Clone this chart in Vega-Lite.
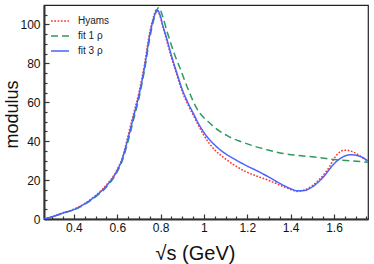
{
  "$schema": "https://vega.github.io/schema/vega-lite/v6.json",
  "width": 324,
  "height": 214,
  "autosize": {"type": "none"},
  "padding": {"left": 44, "top": 5, "right": 6, "bottom": 45},
  "background": "white",
  "config": {
    "view": {"stroke": "#222", "strokeWidth": 1.2},
    "font": "Liberation Sans"
  },
  "data": {
    "values": [
      {"s": "Hyams", "x": 0.262, "y": 0},
      {"s": "Hyams", "x": 0.30, "y": 1.2},
      {"s": "Hyams", "x": 0.35, "y": 3.2},
      {"s": "Hyams", "x": 0.40, "y": 5.0},
      {"s": "Hyams", "x": 0.45, "y": 8.0},
      {"s": "Hyams", "x": 0.50, "y": 12.0},
      {"s": "Hyams", "x": 0.55, "y": 17.5},
      {"s": "Hyams", "x": 0.60, "y": 25.5},
      {"s": "Hyams", "x": 0.625, "y": 32},
      {"s": "Hyams", "x": 0.65, "y": 43},
      {"s": "Hyams", "x": 0.675, "y": 54},
      {"s": "Hyams", "x": 0.70, "y": 65},
      {"s": "Hyams", "x": 0.725, "y": 79},
      {"s": "Hyams", "x": 0.75, "y": 96},
      {"s": "Hyams", "x": 0.765, "y": 103},
      {"s": "Hyams", "x": 0.78, "y": 107.5},
      {"s": "Hyams", "x": 0.795, "y": 105},
      {"s": "Hyams", "x": 0.81, "y": 99},
      {"s": "Hyams", "x": 0.825, "y": 93},
      {"s": "Hyams", "x": 0.85, "y": 83},
      {"s": "Hyams", "x": 0.875, "y": 74},
      {"s": "Hyams", "x": 0.90, "y": 65.5},
      {"s": "Hyams", "x": 0.925, "y": 59},
      {"s": "Hyams", "x": 0.95, "y": 53.5},
      {"s": "Hyams", "x": 0.975, "y": 48},
      {"s": "Hyams", "x": 1.0, "y": 43},
      {"s": "Hyams", "x": 1.05, "y": 35.5},
      {"s": "Hyams", "x": 1.1, "y": 30.8},
      {"s": "Hyams", "x": 1.15, "y": 27},
      {"s": "Hyams", "x": 1.2, "y": 24},
      {"s": "Hyams", "x": 1.25, "y": 21.8},
      {"s": "Hyams", "x": 1.3, "y": 19.8},
      {"s": "Hyams", "x": 1.35, "y": 17.4},
      {"s": "Hyams", "x": 1.4, "y": 15.2},
      {"s": "Hyams", "x": 1.43, "y": 14.2},
      {"s": "Hyams", "x": 1.46, "y": 14.8},
      {"s": "Hyams", "x": 1.5, "y": 17.2},
      {"s": "Hyams", "x": 1.55, "y": 22.5},
      {"s": "Hyams", "x": 1.58, "y": 27},
      {"s": "Hyams", "x": 1.6, "y": 31},
      {"s": "Hyams", "x": 1.625, "y": 34.3},
      {"s": "Hyams", "x": 1.65, "y": 35.4},
      {"s": "Hyams", "x": 1.675, "y": 35.0},
      {"s": "Hyams", "x": 1.7, "y": 33.8},
      {"s": "Hyams", "x": 1.725, "y": 32.0},
      {"s": "Hyams", "x": 1.757, "y": 29.6},
      {"s": "fit 1 ρ", "x": 0.262, "y": 0},
      {"s": "fit 1 ρ", "x": 0.30, "y": 1.1},
      {"s": "fit 1 ρ", "x": 0.35, "y": 3.0},
      {"s": "fit 1 ρ", "x": 0.40, "y": 4.7},
      {"s": "fit 1 ρ", "x": 0.45, "y": 7.5},
      {"s": "fit 1 ρ", "x": 0.50, "y": 11.3},
      {"s": "fit 1 ρ", "x": 0.55, "y": 16.5},
      {"s": "fit 1 ρ", "x": 0.60, "y": 24.3},
      {"s": "fit 1 ρ", "x": 0.625, "y": 30.5},
      {"s": "fit 1 ρ", "x": 0.65, "y": 40},
      {"s": "fit 1 ρ", "x": 0.675, "y": 51},
      {"s": "fit 1 ρ", "x": 0.70, "y": 62},
      {"s": "fit 1 ρ", "x": 0.725, "y": 76},
      {"s": "fit 1 ρ", "x": 0.75, "y": 93},
      {"s": "fit 1 ρ", "x": 0.77, "y": 103},
      {"s": "fit 1 ρ", "x": 0.792, "y": 108.7},
      {"s": "fit 1 ρ", "x": 0.81, "y": 104},
      {"s": "fit 1 ρ", "x": 0.828, "y": 97},
      {"s": "fit 1 ρ", "x": 0.845, "y": 91},
      {"s": "fit 1 ρ", "x": 0.86, "y": 86},
      {"s": "fit 1 ρ", "x": 0.875, "y": 81.5},
      {"s": "fit 1 ρ", "x": 0.89, "y": 77.5},
      {"s": "fit 1 ρ", "x": 0.91, "y": 71.5},
      {"s": "fit 1 ρ", "x": 0.935, "y": 64.5},
      {"s": "fit 1 ρ", "x": 0.966, "y": 57},
      {"s": "fit 1 ρ", "x": 1.0, "y": 52},
      {"s": "fit 1 ρ", "x": 1.02, "y": 50},
      {"s": "fit 1 ρ", "x": 1.05, "y": 47},
      {"s": "fit 1 ρ", "x": 1.074, "y": 45},
      {"s": "fit 1 ρ", "x": 1.1, "y": 43.3},
      {"s": "fit 1 ρ", "x": 1.128, "y": 41.6},
      {"s": "fit 1 ρ", "x": 1.16, "y": 40.2},
      {"s": "fit 1 ρ", "x": 1.2, "y": 38.6},
      {"s": "fit 1 ρ", "x": 1.25, "y": 36.8},
      {"s": "fit 1 ρ", "x": 1.3, "y": 35.3},
      {"s": "fit 1 ρ", "x": 1.366, "y": 33.7},
      {"s": "fit 1 ρ", "x": 1.45, "y": 32.5},
      {"s": "fit 1 ρ", "x": 1.52, "y": 31.7},
      {"s": "fit 1 ρ", "x": 1.6, "y": 30.6},
      {"s": "fit 1 ρ", "x": 1.674, "y": 29.9},
      {"s": "fit 1 ρ", "x": 1.757, "y": 29.2},
      {"s": "fit 3 ρ", "x": 0.262, "y": 0},
      {"s": "fit 3 ρ", "x": 0.30, "y": 1.2},
      {"s": "fit 3 ρ", "x": 0.35, "y": 3.1},
      {"s": "fit 3 ρ", "x": 0.40, "y": 4.9},
      {"s": "fit 3 ρ", "x": 0.45, "y": 7.8},
      {"s": "fit 3 ρ", "x": 0.50, "y": 11.8},
      {"s": "fit 3 ρ", "x": 0.55, "y": 17.0},
      {"s": "fit 3 ρ", "x": 0.60, "y": 25},
      {"s": "fit 3 ρ", "x": 0.625, "y": 31.5},
      {"s": "fit 3 ρ", "x": 0.65, "y": 41.5},
      {"s": "fit 3 ρ", "x": 0.675, "y": 52.5},
      {"s": "fit 3 ρ", "x": 0.70, "y": 63.5},
      {"s": "fit 3 ρ", "x": 0.725, "y": 77.5},
      {"s": "fit 3 ρ", "x": 0.75, "y": 94.5},
      {"s": "fit 3 ρ", "x": 0.765, "y": 102},
      {"s": "fit 3 ρ", "x": 0.785, "y": 107.3},
      {"s": "fit 3 ρ", "x": 0.80, "y": 104},
      {"s": "fit 3 ρ", "x": 0.81, "y": 99.5},
      {"s": "fit 3 ρ", "x": 0.825, "y": 94},
      {"s": "fit 3 ρ", "x": 0.85, "y": 84},
      {"s": "fit 3 ρ", "x": 0.875, "y": 75},
      {"s": "fit 3 ρ", "x": 0.90, "y": 66.5},
      {"s": "fit 3 ρ", "x": 0.925, "y": 60},
      {"s": "fit 3 ρ", "x": 0.95, "y": 54.5},
      {"s": "fit 3 ρ", "x": 0.975, "y": 49},
      {"s": "fit 3 ρ", "x": 1.0, "y": 44.5},
      {"s": "fit 3 ρ", "x": 1.05, "y": 38},
      {"s": "fit 3 ρ", "x": 1.1, "y": 33.5},
      {"s": "fit 3 ρ", "x": 1.15, "y": 30.2},
      {"s": "fit 3 ρ", "x": 1.2, "y": 27.2},
      {"s": "fit 3 ρ", "x": 1.25, "y": 24.5},
      {"s": "fit 3 ρ", "x": 1.3, "y": 21.5},
      {"s": "fit 3 ρ", "x": 1.35, "y": 18.3},
      {"s": "fit 3 ρ", "x": 1.4, "y": 15.6},
      {"s": "fit 3 ρ", "x": 1.43, "y": 14.5},
      {"s": "fit 3 ρ", "x": 1.46, "y": 14.6},
      {"s": "fit 3 ρ", "x": 1.5, "y": 16.5},
      {"s": "fit 3 ρ", "x": 1.55, "y": 21.5},
      {"s": "fit 3 ρ", "x": 1.6, "y": 28.3},
      {"s": "fit 3 ρ", "x": 1.625, "y": 30.8},
      {"s": "fit 3 ρ", "x": 1.65, "y": 32.4},
      {"s": "fit 3 ρ", "x": 1.675, "y": 33.0},
      {"s": "fit 3 ρ", "x": 1.7, "y": 32.8},
      {"s": "fit 3 ρ", "x": 1.725, "y": 32.0},
      {"s": "fit 3 ρ", "x": 1.757, "y": 29.8}
    ]
  },
  "mark": {"type": "line", "interpolate": "monotone", "clip": true},
  "encoding": {
    "x": {
      "field": "x", "type": "quantitative",
      "scale": {"domain": [0.262, 1.757], "nice": false, "zero": false},
      "axis": {
        "title": "√s (GeV)",
        "values": [0.3,0.35,0.4,0.45,0.5,0.55,0.6,0.65,0.7,0.75,0.8,0.85,0.9,0.95,1.0,1.05,1.1,1.15,1.2,1.25,1.3,1.35,1.4,1.45,1.5,1.55,1.6,1.65,1.7,1.75],
        "format": ".2~f",
        "labelExpr": "abs(datum.value*5 - round(datum.value*5)) < 0.001 ? datum.label : ''",
        "labelFontSize": 12,
        "labelColor": "#111",
        "labelPadding": 8,
        "labelFlush": false,
        "labelOverlap": false,
        "tickSize": {"condition": {"test": "abs(datum.value*5 - round(datum.value*5)) < 0.001", "value": -5}, "value": -3},
        "tickColor": "#333",
        "tickWidth": 1.2,
        "domainColor": "#333",
        "domainWidth": 2,
        "grid": false,
        "titleFontSize": 20,
        "titleFontWeight": "normal",
        "titleColor": "#111",
        "titleAnchor": "start",
        "titleAlign": "center",
        "titleBaseline": "alphabetic",
        "titleX": 151,
        "titleY": 40
      }
    },
    "y": {
      "field": "y", "type": "quantitative",
      "scale": {"domain": [0, 110], "nice": false},
      "axis": {
        "title": "modulus",
        "values": [0,5,10,15,20,25,30,35,40,45,50,55,60,65,70,75,80,85,90,95,100,105],
        "labelExpr": "datum.value % 20 == 0 ? datum.label : ''",
        "labelFontSize": 12,
        "labelColor": "#111",
        "labelPadding": 9,
        "labelOverlap": false,
        "labelFlush": false,
        "tickSize": {"condition": {"test": "datum.value % 20 == 0", "value": -5}, "value": -3},
        "tickColor": "#333",
        "tickWidth": 1.2,
        "domainColor": "#333",
        "domainWidth": 2,
        "grid": false,
        "titleFontSize": 18,
        "titleFontWeight": "normal",
        "titleColor": "#111",
        "titleAngle": -90,
        "titleAlign": "center",
        "titleBaseline": "alphabetic",
        "titleX": -27,
        "titleY": 109
      }
    },
    "color": {
      "field": "s", "type": "nominal",
      "scale": {"domain": ["Hyams", "fit 1 ρ", "fit 3 ρ"], "range": ["#ff3322", "#2e9a5e", "#4a62ff"]},
      "legend": {
        "title": null,
        "orient": "none",
        "legendX": 6,
        "legendY": 6,
        "padding": 0,
        "symbolType": "stroke",
        "symbolSize": 324,
        "symbolStrokeWidth": 1.5,
        "labelFontSize": 10,
        "labelColor": "#222",
        "labelOffset": 8,
        "rowPadding": -2
      }
    },
    "strokeDash": {
      "field": "s", "type": "nominal",
      "scale": {"domain": ["Hyams", "fit 1 ρ", "fit 3 ρ"], "range": [[1.7, 1.6], [7, 4], [1, 0]]},
      "legend": null
    },
    "strokeWidth": {"value": 1.5}
  }
}
